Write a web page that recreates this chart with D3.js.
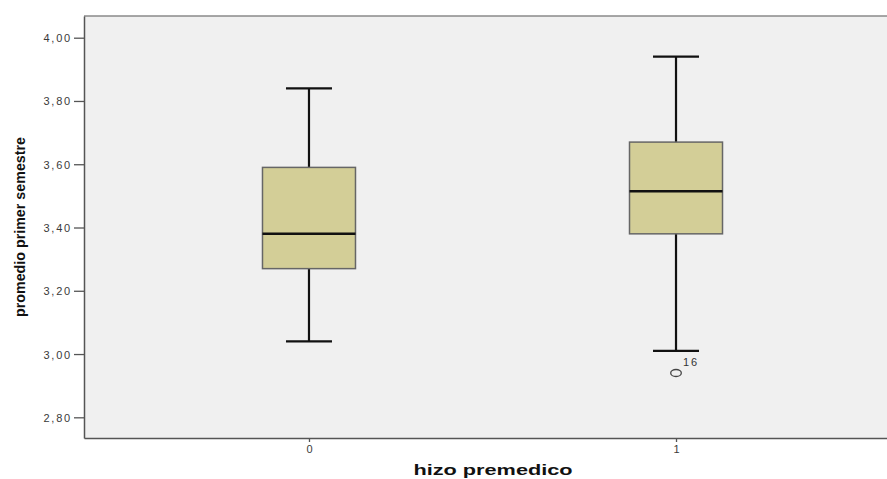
<!DOCTYPE html>
<html>
<head>
<meta charset="utf-8">
<script src="https://cdnjs.cloudflare.com/ajax/libs/d3/7.8.5/d3.min.js"></script>
<style>
  body { margin: 0; background: #fff; }
  svg { display: block; }
  .tick text { font-family: "Liberation Sans", Arial, sans-serif; fill: #3a3a3a; }
</style>
</head>
<body>
<script>
// categories and box statistics
var categories = ['0', '1'];
var whiskerLow  = [3.04, 3.01];
var q1          = [3.27, 3.38];
var medians     = [3.38, 3.515];
var q3          = [3.59, 3.67];
var whiskerHigh = [3.84, 3.94];
var outliers    = [{ cat: '1', value: 2.94, label: '16' }];
var yTicks      = [2.8, 3.0, 3.2, 3.4, 3.6, 3.8, 4.0];

var svgWidth  = 887,
    svgHeight = 479,
    margin = { top: 16, left: 84 },
    chartWidth  = 817,
    chartHeight = 422;

var locale = d3.formatLocale({ decimal: ',', thousands: '.', grouping: [3], currency: ['', ''] });
var fmt = locale.format('.2f');

var x = d3.scalePoint()
  .domain(categories)
  .range([0, chartWidth])
  .padding(0.613);

var y = d3.scaleLinear()
  .domain([2.7346, 4.0686])
  .range([chartHeight, 0]);

var svg = d3.select('body').append('svg')
  .attr('width', svgWidth)
  .attr('height', svgHeight);

var g = svg.append('g')
  .attr('transform', 'translate(' + margin.left + ',' + margin.top + ')');

// plot background
g.append('rect')
  .attr('x', 0).attr('y', 0)
  .attr('width', chartWidth).attr('height', chartHeight)
  .attr('fill', '#f0f0f0');

g.append('line')
  .attr('x1', 0).attr('x2', chartWidth)
  .attr('y1', 0).attr('y2', 0)
  .attr('stroke', '#8a8a8a').attr('stroke-width', 1.5);

// axes
var yAxis = d3.axisLeft(y).tickValues(yTicks).tickFormat(fmt).tickSizeInner(10).tickSizeOuter(0).tickPadding(2);
var xAxis = d3.axisBottom(x).tickSizeInner(4).tickSizeOuter(0).tickPadding(3);

var ya = g.append('g').call(yAxis);
ya.select('.domain').attr('stroke', '#555').attr('stroke-width', 1.5);
ya.selectAll('.tick line').attr('stroke', '#555').attr('stroke-width', 1.3);
ya.selectAll('.tick text')
  .style('font-size', '11px')
  .style('letter-spacing', '1.8px')
  .attr('dy', '0.36em');

var xa = g.append('g')
  .attr('transform', 'translate(0,' + chartHeight + ')')
  .call(xAxis);
xa.select('.domain').attr('stroke', '#555').attr('stroke-width', 1.5);
xa.selectAll('.tick line').attr('stroke', '#555').attr('stroke-width', 1.3);
xa.selectAll('.tick text')
  .style('font-size', '11px');

// boxes
var boxW = 93, capW = 46;
var boxes = categories.map(function (c, i) {
  return { cat: c, lo: whiskerLow[i], q1: q1[i], med: medians[i], q3: q3[i], hi: whiskerHigh[i] };
});

var bg = g.selectAll('.box').data(boxes).enter().append('g').attr('class', 'box');

bg.append('line')
  .attr('x1', function (d) { return x(d.cat); })
  .attr('x2', function (d) { return x(d.cat); })
  .attr('y1', function (d) { return y(d.hi); })
  .attr('y2', function (d) { return y(d.lo); })
  .attr('stroke', '#111').attr('stroke-width', 2.2);

bg.selectAll('.cap').data(function (d) { return [{ cat: d.cat, v: d.hi }, { cat: d.cat, v: d.lo }]; })
  .enter().append('line')
  .attr('x1', function (d) { return x(d.cat) - capW / 2; })
  .attr('x2', function (d) { return x(d.cat) + capW / 2; })
  .attr('y1', function (d) { return y(d.v); })
  .attr('y2', function (d) { return y(d.v); })
  .attr('stroke', '#111').attr('stroke-width', 2.2);

bg.append('rect')
  .attr('x', function (d) { return x(d.cat) - boxW / 2; })
  .attr('y', function (d) { return y(d.q3); })
  .attr('width', boxW)
  .attr('height', function (d) { return y(d.q1) - y(d.q3); })
  .attr('fill', '#d3ce97')
  .attr('stroke', '#666').attr('stroke-width', 1.5);

bg.append('line')
  .attr('x1', function (d) { return x(d.cat) - boxW / 2; })
  .attr('x2', function (d) { return x(d.cat) + boxW / 2; })
  .attr('y1', function (d) { return y(d.med); })
  .attr('y2', function (d) { return y(d.med); })
  .attr('stroke', '#111').attr('stroke-width', 2.5);

// outliers
var og = g.selectAll('.outlier').data(outliers).enter().append('g');
og.append('ellipse')
  .attr('cx', function (d) { return x(d.cat); })
  .attr('cy', function (d) { return y(d.value); })
  .attr('rx', 5.3).attr('ry', 3.5)
  .attr('fill', 'none').attr('stroke', '#444').attr('stroke-width', 1.3);
og.append('text')
  .attr('x', function (d) { return x(d.cat) + 7; })
  .attr('y', function (d) { return y(d.value) - 7; })
  .style('font-family', '"Liberation Sans", Arial, sans-serif')
  .style('font-size', '11px')
  .style('letter-spacing', '2px')
  .attr('fill', '#333')
  .text(function (d) { return d.label; });

// axis titles
svg.append('text')
  .attr('transform', 'translate(25,227) rotate(-90)')
  .attr('text-anchor', 'middle')
  .style('font-family', '"Liberation Sans Narrow", "Arial Narrow", "Liberation Sans", sans-serif')
  .style('font-weight', 'bold')
  .style('font-size', '15px')
  .attr('textLength', 180)
  .attr('lengthAdjust', 'spacingAndGlyphs')
  .attr('fill', '#111')
  .text('promedio primer semestre');

svg.append('text')
  .attr('x', 493)
  .attr('y', 475)
  .attr('text-anchor', 'middle')
  .style('font-family', '"Liberation Sans", Arial, sans-serif')
  .style('font-weight', 'bold')
  .style('font-size', '14px')
  .attr('textLength', 159)
  .attr('lengthAdjust', 'spacingAndGlyphs')
  .attr('fill', '#111')
  .text('hizo premedico');
</script>
</body>
</html>
